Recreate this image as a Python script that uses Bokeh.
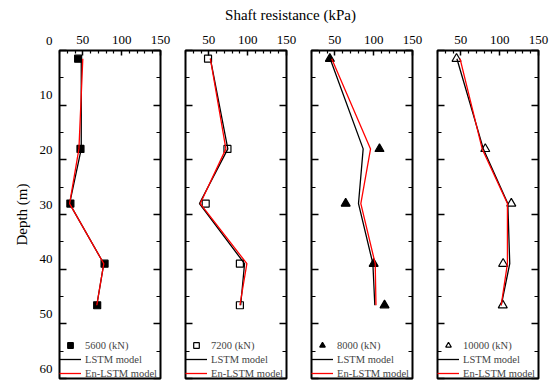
from bokeh.plotting import figure
from bokeh.layouts import row, column
from bokeh.models import (Range1d, LinearAxis, FixedTicker, Legend, LegendItem,
                          Label, CustomLabelingPolicy)
from bokeh.core.properties import value
from bokeh.embed import file_html
from bokeh.resources import INLINE
import math

# Depths (m) of the measurement points along the pile
depth = [1.5, 18, 28, 39, 46.6]

# Shaft resistance (kPa) per load level: measured, LSTM and En-LSTM predictions
load_labels = ["5600 (kN)", "7200 (kN)", "8000 (kN)", "10000 (kN)"]

measured_5600 = [44, 47, 34, 78, 68.5]
lstm_5600 = [48, 48, 33, 77, 68]
enlstm_5600 = [50, 45, 33, 77, 68]

measured_7200 = [49, 74, 46, 90, 90]
lstm_7200 = [52, 74.5, 38, 96, 91]
enlstm_7200 = [52, 72, 39, 99, 90]

measured_8000 = [43.6, 107.5, 64, 100, 114]
lstm_8000 = [44, 86.5, 80.5, 99, 101.5]
enlstm_8000 = [46, 96, 83.5, 102, 103]

measured_10000 = [44.5, 81.5, 115, 104.5, 104]
lstm_10000 = [45, 79, 110.5, 113, 102]
enlstm_10000 = [49, 77.5, 110, 110, 102]

x_ticks = [50, 100, 150]
x_minor = [20, 30, 40, 60, 70, 80, 90, 110, 120, 130, 140]
y_ticks = [0, 10, 20, 30, 40, 50, 60]
y_minor = [5, 15, 25, 35, 45, 55]
x_min, x_max = 20, 150
y_min, y_max = 0, 60

FONT = "'Liberation Serif'"

# layout in pixels
TOTAL_H = 388
HEAD_H = 24
PANEL_H = TOTAL_H - HEAD_H
BORDER_TOP = 26
BORDER_BOTTOM = 10
FRAME_W = 101
STRIP_W = 53
LABEL_LIFT = 10  # depth labels sit slightly above their ticks

series = [
    (measured_5600, lstm_5600, enlstm_5600, "square", "black"),
    (measured_7200, lstm_7200, enlstm_7200, "square", "white"),
    (measured_8000, lstm_8000, enlstm_8000, "triangle", "black"),
    (measured_10000, lstm_10000, enlstm_10000, "triangle", "white"),
]


def style_y_axis(ax):
    ax.ticker = FixedTicker(ticks=y_ticks, minor_ticks=y_minor)
    ax.axis_line_color = None
    ax.major_tick_in = 7
    ax.major_tick_out = 0
    ax.minor_tick_in = 4
    ax.minor_tick_out = 0
    ax.major_tick_line_width = 1.5
    ax.minor_tick_line_width = 1.2
    ax.major_label_policy = CustomLabelingPolicy(code="return []")
    ax.major_label_text_font_size = "0px"
    ax.major_label_standoff = 0


def make_panel(i, measured, lstm, enlstm, marker, fill, label):
    left = 6 if i == 0 else 13
    p = figure(width=left + FRAME_W + 12, height=PANEL_H,
               x_range=Range1d(x_min, x_max), y_range=Range1d(y_max, y_min),
               x_axis_location="above", output_backend="svg",
               toolbar_location=None, title=None,
               min_border_left=left, min_border_right=12,
               min_border_top=BORDER_TOP, min_border_bottom=BORDER_BOTTOM)
    p.xgrid.visible = False
    p.ygrid.visible = False
    p.outline_line_color = "black"
    p.outline_line_width = 2

    xa = p.xaxis[0]
    xa.ticker = FixedTicker(ticks=x_ticks, minor_ticks=x_minor)
    xa.axis_line_color = None
    xa.major_tick_in = 5
    xa.major_tick_out = 0
    xa.minor_tick_in = 3
    xa.minor_tick_out = 0
    xa.major_tick_line_width = 1.5
    xa.minor_tick_line_width = 1.2
    xa.major_label_standoff = 7
    xa.major_label_text_font = FONT
    xa.major_label_text_font_size = "13px"
    xa.major_label_text_color = "black"

    style_y_axis(p.yaxis[0])
    right = LinearAxis()
    style_y_axis(right)
    p.add_layout(right, "right")

    sc = p.scatter(measured, depth, marker=marker,
                   size=7 if marker == "square" else 9,
                   fill_color=fill, line_color="black", line_width=1.2)
    l1 = p.line(lstm, depth, color="black", line_width=1.3)
    l2 = p.line(enlstm, depth, color="red", line_width=1.3)

    legend = Legend(items=[LegendItem(label=label, renderers=[sc]),
                           LegendItem(label="LSTM model", renderers=[l1]),
                           LegendItem(label="En-LSTM model", renderers=[l2])],
                    location=(0, -2), border_line_color=None,
                    background_fill_alpha=0, padding=0, margin=0, spacing=0,
                    glyph_width=22, glyph_height=14, label_height=14,
                    label_standoff=4, label_text_font=FONT,
                    label_text_font_size="10.5px")
    p.add_layout(legend)
    return p


panels = [make_panel(i, *s, load_labels[i]) for i, s in enumerate(series)]

# Depth tick labels and axis title in a full-height strip left of the panels.
# The strip's range is set so that its depths line up with the panel frames,
# with the labels lifted a few pixels above their ticks.
frame_h = PANEL_H - BORDER_TOP - BORDER_BOTTOM
px_per_m = frame_h / (y_max - y_min)
frame_top = HEAD_H + BORDER_TOP - LABEL_LIFT
strip_top = y_min - frame_top / px_per_m
strip_bottom = y_min + (TOTAL_H - frame_top) / px_per_m
strip = figure(width=STRIP_W, height=TOTAL_H,
               x_range=Range1d(0, STRIP_W), y_range=Range1d(strip_bottom, strip_top),
               x_axis_location=None, y_axis_location=None, title=None,
               toolbar_location=None, output_backend="svg", min_border=0)
strip.xgrid.visible = False
strip.ygrid.visible = False
strip.outline_line_color = None
strip.text(x=[STRIP_W - 1] * len(y_ticks), y=y_ticks, text=[str(t) for t in y_ticks],
           text_align="right", text_baseline="middle",
           text_font=value(FONT), text_font_size=value("13px"), text_color="black")
strip.add_layout(Label(x=21, y=(y_min + y_max) / 2 + LABEL_LIFT / px_per_m,
                       text="Depth (m)", angle=math.pi / 2,
                       text_align="center", text_baseline="middle",
                       text_font=FONT, text_font_size="15px", text_color="black"))

head_w = STRIP_W + sum(p.width for p in panels)
head = figure(width=head_w - STRIP_W, height=HEAD_H,
              x_range=Range1d(STRIP_W, head_w), y_range=Range1d(0, HEAD_H),
              x_axis_location=None, y_axis_location=None, title=None,
              toolbar_location=None, output_backend="svg", min_border=0)
head.xgrid.visible = False
head.ygrid.visible = False
head.outline_line_color = None
head.add_layout(Label(x=290, y=10, text="Shaft resistance (kPa)",
                      text_align="center", text_baseline="middle",
                      text_font=FONT, text_font_size="15px", text_color="black"))

layout = row(strip, column(head, row(*panels, spacing=0), spacing=0), spacing=0)
open("out.html", "w").write(file_html(layout, INLINE))
